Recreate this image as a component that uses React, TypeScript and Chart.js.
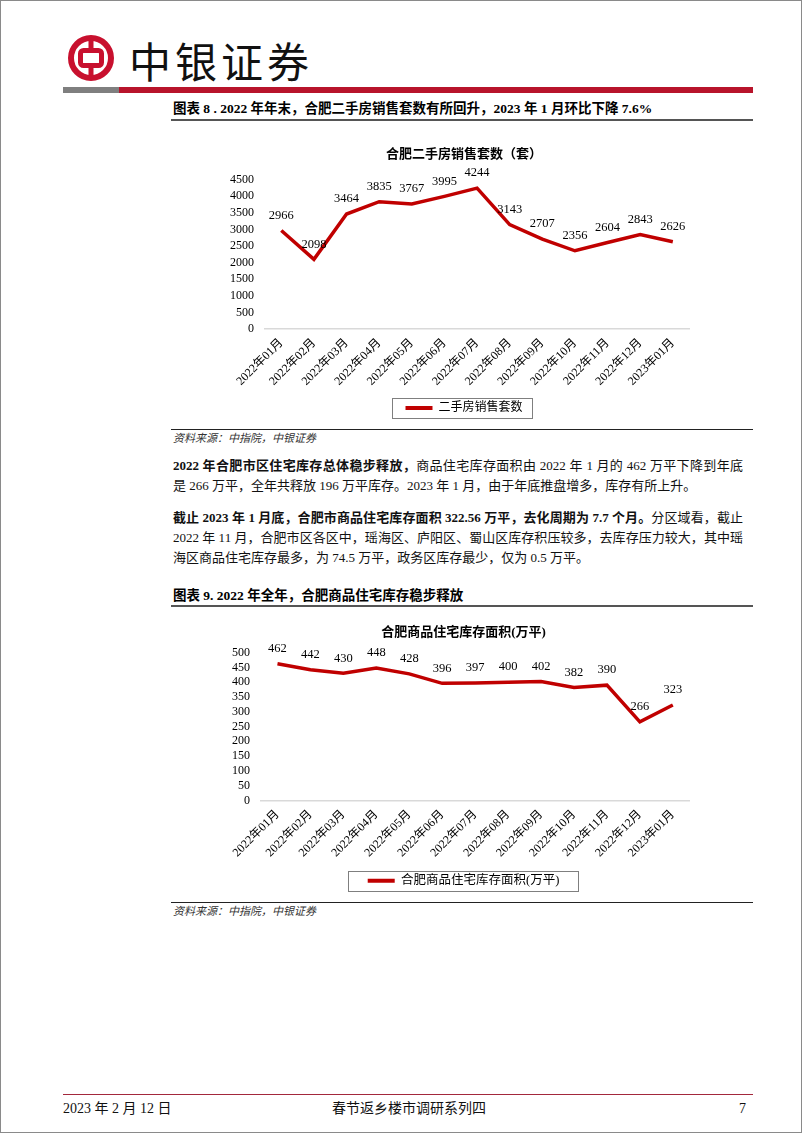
import React, { useEffect, useRef } from 'react';
import { Chart, registerables } from 'chart.js';

Chart.register(...registerables);

// ---------- data ----------
const months = [
  '2022年01月', '2022年02月', '2022年03月', '2022年04月', '2022年05月', '2022年06月',
  '2022年07月', '2022年08月', '2022年09月', '2022年10月', '2022年11月', '2022年12月', '2023年01月',
];
const salesTitle = '合肥二手房销售套数（套）';
const salesLabel = '二手房销售套数';
const salesValues = [2966, 2098, 3464, 3835, 3767, 3995, 4244, 3143, 2707, 2356, 2604, 2843, 2626];
const salesAxis = [0, 4500, 500];

const stockTitle = '合肥商品住宅库存面积(万平)';
const stockLabel = '合肥商品住宅库存面积(万平)';
const stockValues = [462, 442, 430, 448, 428, 396, 397, 400, 402, 382, 390, 266, 323];
const stockAxis = [0, 500, 50];

const SERIF = '"Liberation Serif", "Noto Sans CJK SC", serif';
const RED = '#c00000';

const valueLabels = {
  id: 'valueLabels',
  afterDatasetsDraw(chart: any) {
    const { ctx } = chart;
    chart.data.datasets.forEach((ds: any, i: number) => {
      const meta = chart.getDatasetMeta(i);
      meta.data.forEach((pt: any, j: number) => {
        ctx.save();
        ctx.font = `12.5px ${SERIF}`;
        ctx.fillStyle = '#000';
        ctx.textAlign = 'center';
        ctx.textBaseline = 'middle';
        ctx.fillText(String(ds.data[j]), pt.x, pt.y - 15);
        ctx.restore();
      });
    });
  },
};

// let the y tick labels spill to the left of the (narrow) y-axis box
const widenLabelClip = {
  id: 'widenLabelClip',
  afterLayout(chart: any) {
    const y = chart.scales && chart.scales.y;
    if (y) y.left = 0;
  },
};

const legendFrame = {
  id: 'legendFrame',
  afterDraw(chart: any, _args: any, opts: any) {
    const hb = chart.legend && chart.legend.legendHitBoxes && chart.legend.legendHitBoxes[0];
    if (!hb) return;
    const { ctx } = chart;
    const padL = opts.padL ?? 16;
    const padR = opts.padR ?? 8;
    const cy = hb.top + hb.height / 2;
    ctx.save();
    ctx.strokeStyle = '#7f7f7f';
    ctx.lineWidth = 1;
    ctx.strokeRect(
      Math.round(hb.left - padL) + 0.5,
      Math.round(cy - 10) + 0.5,
      Math.round(hb.width + padL + padR),
      20,
    );
    ctx.restore();
  },
};

type LineProps = {
  title: string;
  label: string;
  values: number[];
  axis: number[];
  width: number;
  height: number;
  padLeft: number;
  yWidth: number;
  xHeight: number;
  titlePad: [number, number];
  legendPad: [number, number];
  legendSize: number;
};

function LineChart(p: LineProps) {
  const ref = useRef<HTMLCanvasElement | null>(null);
  useEffect(() => {
    if (!ref.current) return;
    const chart = new Chart(ref.current, {
      type: 'line',
      data: {
        labels: months,
        datasets: [
          {
            label: p.label,
            data: p.values,
            borderColor: RED,
            backgroundColor: RED,
            borderWidth: 3.5,
            pointRadius: 0,
            tension: 0,
            clip: false as any,
            borderJoinStyle: 'miter',
          },
        ],
      },
      options: {
        responsive: false,
        animation: false,
        layout: { padding: { left: p.padLeft, right: 0, top: 0, bottom: 2 } },
        plugins: {
          title: {
            display: true,
            text: p.title,
            color: '#000',
            font: { family: SERIF, size: 13, weight: 'bold' },
            padding: { top: p.titlePad[0], bottom: p.titlePad[1] },
          },
          legend: {
            display: true,
            position: 'bottom',
            labels: {
              color: '#000',
              font: { family: SERIF, size: p.legendSize },
              boxWidth: 27,
              boxHeight: 4,
              padding: 10,
              generateLabels: (c: any) =>
                Chart.defaults.plugins.legend.labels
                  .generateLabels(c)
                  .map((l: any) => ({ ...l, lineWidth: 0, fillStyle: RED, strokeStyle: RED })),
            },
          },
          tooltip: { enabled: false },
          legendFrame: { padL: p.legendPad[0], padR: p.legendPad[1] },
        } as any,
        scales: {
          x: {
            offset: true,
            grid: { display: false, drawTicks: false },
            border: { display: true, color: '#d9d9d9', width: 1.5 },
            ticks: {
              color: '#000',
              font: { family: SERIF, size: 12 },
              minRotation: 45,
              maxRotation: 45,
              autoSkip: false,
              padding: 7,
            },
            afterFit: (s: any) => {
              s.height = p.xHeight;
            },
          },
          y: {
            min: p.axis[0],
            max: p.axis[1],
            grid: { display: false, drawTicks: false },
            border: { display: false },
            ticks: {
              stepSize: p.axis[2],
              autoSkip: false,
              color: '#000',
              font: { family: SERIF, size: 12 },
              padding: 11,
              callback: (v: any) => String(v),
            },
            afterFit: (s: any) => {
              s.width = p.yWidth;
            },
          },
        },
      },
      plugins: [valueLabels, legendFrame, widenLabelClip],
    });
    return () => chart.destroy();
  }, []);
  return <canvas ref={ref} width={p.width} height={p.height} style={{ display: 'block' }} />;
}

const abs = (left: number, top: number, extra: React.CSSProperties = {}): React.CSSProperties => ({
  position: 'absolute',
  left,
  top,
  ...extra,
});

const textFont: React.CSSProperties = {
  fontFamily: SERIF,
  fontSize: 13,
  lineHeight: '20px',
  color: '#111',
  whiteSpace: 'nowrap',
};

function Line({ y, justify, children }: { y: number; justify?: boolean; children: React.ReactNode }) {
  return (
    <div
      style={abs(172, y - 10, {
        ...textFont,
        width: 570,
        textAlign: justify ? 'justify' : 'left',
        textAlignLast: justify ? 'justify' : 'left',
        whiteSpace: 'nowrap',
      } as React.CSSProperties)}
    >
      {children}
    </div>
  );
}

function Logo() {
  return (
    <svg width={50} height={50} viewBox="0 0 50 50" style={abs(65, 32)}>
      <circle cx={25} cy={25} r={20} fill="#fff" stroke="#c8102e" strokeWidth={6} />
      <rect x={22.5} y={4} width={5} height={14} fill="#c8102e" />
      <rect x={22.5} y={32} width={5} height={14} fill="#c8102e" />
      <rect x={14.5} y={17.5} width={21} height={15} rx={3} fill="#fff" stroke="#c8102e" strokeWidth={5} />
    </svg>
  );
}

const sourceStyle: React.CSSProperties = {
  fontFamily: SERIF,
  fontSize: 11,
  lineHeight: '16px',
  fontStyle: 'italic',
  color: '#333',
  whiteSpace: 'nowrap',
};

export default function App() {
  const bold: React.CSSProperties = { fontWeight: 'bold' };
  return (
    <div
      style={{
        position: 'absolute',
        left: 0,
        top: 0,
        width: 802,
        height: 1133,
        boxSizing: 'border-box',
        border: '1px solid #8a8a8a',
        background: '#fff',
        overflow: 'hidden',
      }}
    >
      <Logo />
      <div
        style={abs(128, 37, {
          fontFamily: '"Noto Sans CJK SC", sans-serif',
          fontSize: 42,
          lineHeight: '44px',
          letterSpacing: 4,
          color: '#111',
          whiteSpace: 'nowrap',
        })}
      >
        中银证券
      </div>
      <div style={abs(62, 86, { width: 56, height: 6, background: '#7f7f7f' })} />
      <div style={abs(118, 86, { width: 634, height: 6, background: '#b8142b' })} />

      {/* chart 8 header */}
      <div style={abs(172, 98, { ...textFont, ...bold, fontSize: 13.5, color: '#000' })}>
        图表 8 . 2022 年年末，合肥二手房销售套数有所回升，2023 年 1 月环比下降 7.6%
      </div>
      <div style={abs(170, 118, { width: 582, height: 1.5, background: '#555' })} />

      <div style={abs(200, 135)}>
        <LineChart
          title={salesTitle}
          label={salesLabel}
          values={salesValues}
          axis={salesAxis}
          width={489}
          height={290}
          padLeft={37}
          yWidth={27}
          xHeight={63}
          titlePad={[11, 17]}
          legendPad={[13, 10]}
          legendSize={12}
        />
      </div>

      <div style={abs(170, 427.5, { width: 582, height: 1.5, background: '#222' })} />
      <div style={abs(172, 429, sourceStyle)}>资料来源：中指院，中银证券</div>

      {/* paragraphs */}
      <Line y={465} justify>
        <b>2022 年合肥市区住宅库存总体稳步释放，</b>商品住宅库存面积由 2022 年 1 月的 462 万平下降到年底
      </Line>
      <Line y={485}>是 266 万平，全年共释放 196 万平库存。2023 年 1 月，由于年底推盘增多，库存有所上升。</Line>
      <Line y={517} justify>
        <b>截止 2023 年 1 月底，合肥市商品住宅库存面积 322.56 万平，去化周期为 7.7 个月。</b>分区域看，截止
      </Line>
      <Line y={537} justify>
        2022 年 11 月，合肥市区各区中，瑶海区、庐阳区、蜀山区库存积压较多，去库存压力较大，其中瑶
      </Line>
      <Line y={557}>海区商品住宅库存最多，为 74.5 万平，政务区库存最少，仅为 0.5 万平。</Line>

      {/* chart 9 header */}
      <div style={abs(172, 585, { ...textFont, ...bold, fontSize: 13.5, color: '#000' })}>
        图表 9. 2022 年全年，合肥商品住宅库存稳步释放
      </div>
      <div style={abs(170, 603.5, { width: 582, height: 2, background: '#555' })} />

      <div style={abs(200, 612)}>
        <LineChart
          title={stockTitle}
          label={stockLabel}
          values={stockValues}
          axis={stockAxis}
          width={489}
          height={286}
          padLeft={36}
          yWidth={24}
          xHeight={64}
          titlePad={[12, 12]}
          legendPad={[20, 18]}
          legendSize={12.5}
        />
      </div>

      <div style={abs(170, 900.5, { width: 582, height: 1.5, background: '#222' })} />
      <div style={abs(172, 902, sourceStyle)}>资料来源：中指院，中银证券</div>

      {/* footer */}
      <div style={abs(62, 1093, { width: 690, height: 1, background: '#a3283c' })} />
      <div style={abs(62, 1098, { ...textFont, fontSize: 14 })}>2023 年 2 月 12 日</div>
      <div style={abs(308, 1098, { ...textFont, fontSize: 14, width: 200, textAlign: 'center' })}>
        春节返乡楼市调研系列四
      </div>
      <div style={abs(700, 1098, { ...textFont, fontSize: 14, width: 45, textAlign: 'right' })}>7</div>
    </div>
  );
}
